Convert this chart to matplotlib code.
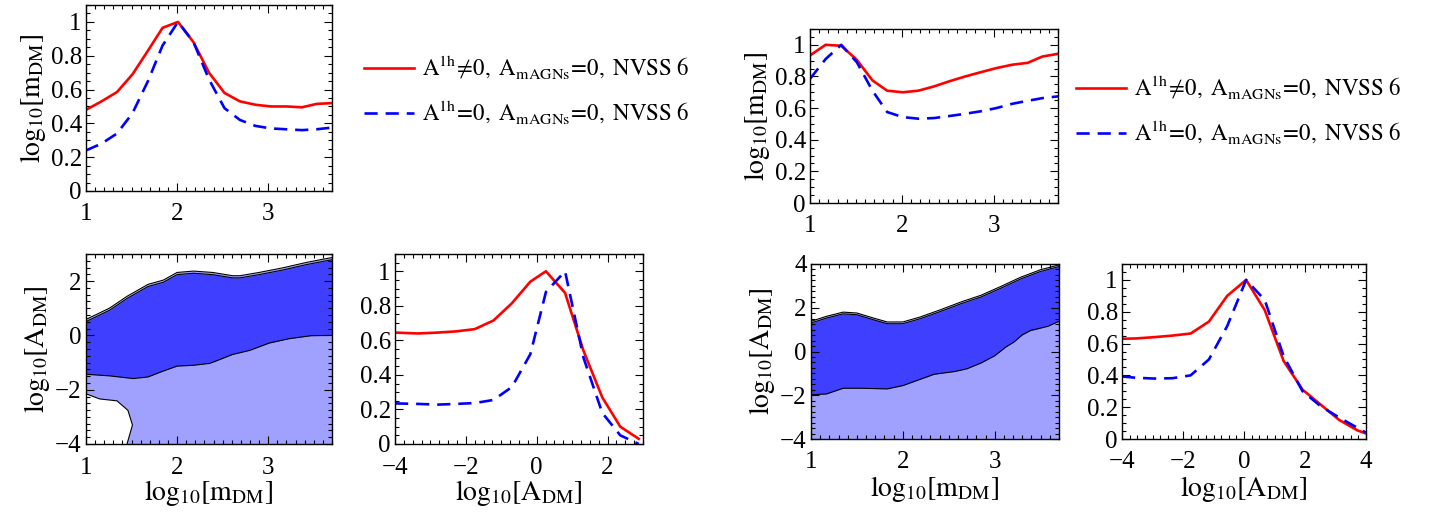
import numpy as np
import matplotlib
matplotlib.use("Agg")
from matplotlib import pyplot as plt
from matplotlib.ticker import MultipleLocator
from matplotlib.lines import Line2D

plt.rcParams['font.family'] = ['Liberation Serif', 'DejaVu Serif']
plt.rcParams['mathtext.fontset'] = 'stix'
plt.rcParams['font.size'] = 18

# ---- data ----
# 1D marginals in log10[m_DM]
m_grid = [1.0, 1.17, 1.34, 1.51, 1.68, 1.84, 2.01, 2.18, 2.35, 2.52, 2.69, 2.86, 3.03, 3.2, 3.37, 3.53, 3.7]
left_m_red = [0.48, 0.53, 0.585, 0.69, 0.83, 0.965, 1.0, 0.88, 0.70, 0.58, 0.53, 0.51, 0.50, 0.50, 0.495, 0.515, 0.52]
left_m_blue = [0.24, 0.28, 0.34, 0.46, 0.65, 0.86, 1.0, 0.88, 0.66, 0.49, 0.42, 0.385, 0.37, 0.365, 0.36, 0.365, 0.375]
right_m_red = [0.933, 1.0, 0.994, 0.905, 0.775, 0.71, 0.70, 0.71, 0.737, 0.77, 0.80, 0.827, 0.853, 0.874, 0.886, 0.926, 0.943]
right_m_blue = [0.785, 0.91, 1.0, 0.89, 0.71, 0.575, 0.543, 0.533, 0.537, 0.55, 0.564, 0.58, 0.60, 0.627, 0.646, 0.663, 0.674]

# 1D marginals in log10[A_DM]
left_a_grid = [-4.0, -3.35, -2.8, -2.28, -1.75, -1.22, -0.7, -0.18, 0.26, 0.8, 1.32, 1.85, 2.36, 2.88]
left_a_red = [0.645, 0.64, 0.645, 0.652, 0.665, 0.715, 0.815, 0.94, 1.0, 0.875, 0.54, 0.27, 0.10, 0.03]
left_a_blue = [0.235, 0.232, 0.228, 0.232, 0.237, 0.255, 0.33, 0.52, 0.88, 1.0, 0.50, 0.18, 0.05, 0.0]
right_a_grid = [-4.0, -3.55, -2.95, -2.35, -1.75, -1.15, -0.55, 0.07, 0.68, 1.3, 1.92, 2.52, 3.12, 3.72, 4.0]
right_a_red = [0.63, 0.632, 0.64, 0.65, 0.663, 0.738, 0.90, 1.0, 0.81, 0.49, 0.31, 0.215, 0.12, 0.054, 0.035]
right_a_blue = [0.393, 0.385, 0.38, 0.382, 0.40, 0.50, 0.71, 1.0, 0.874, 0.52, 0.30, 0.205, 0.135, 0.07, 0.04]

# 2D contours: upper edge of 68% / 95% and lower edge of 68%
left_up_x = [1.0, 1.15, 1.26, 1.45, 1.68, 1.85, 2.0, 2.18, 2.39, 2.61, 2.69, 2.9, 3.16, 3.42, 3.7]
left_up_y = [0.51, 0.75, 0.93, 1.36, 1.8, 1.96, 2.24, 2.29, 2.24, 2.12, 2.12, 2.24, 2.41, 2.61, 2.79]
left_mid_x = [1.0, 1.26, 1.52, 1.68, 1.85, 2.0, 2.18, 2.36, 2.61, 2.8, 3.01, 3.23, 3.47, 3.7]
left_mid_y = [-1.43, -1.49, -1.59, -1.53, -1.31, -1.13, -1.10, -1.03, -0.70, -0.55, -0.28, -0.12, -0.01, 0.0]
left_hole_x = [1.0, 1.15, 1.34, 1.46, 1.51, 1.45]
left_hole_y = [-2.15, -2.34, -2.41, -2.76, -3.3, -4.0]

right_up_x = [1.0, 1.17, 1.35, 1.5, 1.68, 1.83, 2.0, 2.19, 2.41, 2.63, 2.85, 3.07, 3.28, 3.5, 3.71]
right_up_y = [1.3, 1.53, 1.72, 1.68, 1.45, 1.27, 1.27, 1.5, 1.83, 2.18, 2.49, 2.9, 3.31, 3.66, 3.89]
right_mid_x = [1.0, 1.17, 1.35, 1.54, 1.83, 2.0, 2.19, 2.34, 2.56, 2.7, 2.85, 3.0, 3.12, 3.21, 3.3, 3.39, 3.58, 3.71]
right_mid_y = [-1.98, -1.94, -1.68, -1.68, -1.71, -1.56, -1.27, -1.04, -0.92, -0.79, -0.53, -0.2, 0.2, 0.43, 0.76, 0.96, 1.15, 1.40]

legend_labels = [r'$\mathrm{A^{1h}\!\neq\!0,\ A_{mAGNs}\!=\!0,\ NVSS\ 6}$',
                 r'$\mathrm{A^{1h}\!=\!0,\ A_{mAGNs}\!=\!0,\ NVSS\ 6}$']

RED = '#ff0000'
BLUE = '#0000ff'
DARK = '#3f3fff'
LIGHT = '#a0a0ff'
DASH = (0, (5, 3))
m_label = r'$\mathrm{log_{10}[m_{DM}]}$'
a_label = r'$\mathrm{log_{10}[A_{DM}]}$'


def style(ax, xminor, yminor):
    ax.xaxis.set_minor_locator(MultipleLocator(xminor))
    ax.yaxis.set_minor_locator(MultipleLocator(yminor))
    ax.tick_params(which='both', direction='in', top=True, right=True, width=0.8)
    ax.tick_params(which='major', length=6, labelsize=18, pad=3)
    ax.tick_params(axis='x', which='major', pad=9)
    ax.tick_params(which='minor', length=3)
    for s in ax.spines.values():
        s.set_linewidth(1.0)


def lines_1d(ax, x, red, blue, xlim, xmajor, xminor):
    ax.plot(x, red, color=RED, lw=1.9)
    ax.plot(x, blue, color=BLUE, lw=1.9, ls=DASH)
    ax.set_xlim(*xlim)
    ax.set_ylim(0, 1.1)
    ax.set_yticks([0, 0.2, 0.4, 0.6, 0.8, 1])
    ax.set_yticklabels(['0', '0.2', '0.4', '0.6', '0.8', '1'])
    ax.xaxis.set_major_locator(MultipleLocator(xmajor))
    style(ax, xminor, 0.05)


def contour_2d(ax, up_x, up_y, mid_x, mid_y, ylim, hole_x=None, hole_y=None):
    ux = np.array(up_x)
    uy = np.array(up_y)
    ax.fill_between(ux, ylim[0], uy + 0.08, color=LIGHT, lw=0)
    ax.fill_between(ux, np.interp(ux, mid_x, mid_y), uy, color=DARK, lw=0)
    ax.fill_between(mid_x, ylim[0], mid_y, color=LIGHT, lw=0)
    ax.plot(ux, uy + 0.08, color='k', lw=0.8)
    ax.plot(ux, uy, color='k', lw=0.8)
    ax.plot(mid_x, mid_y, color='k', lw=0.8)
    if hole_x is not None:
        px = list(hole_x) + [hole_x[0]]
        py = list(hole_y) + [ylim[0]]
        ax.fill(px, py, color='white', lw=0)
        ax.plot(hole_x, hole_y, color='k', lw=0.8)
    ax.set_xlim(1, 3.7)
    ax.set_ylim(*ylim)
    ax.xaxis.set_major_locator(MultipleLocator(1))
    ax.yaxis.set_major_locator(MultipleLocator(2))
    style(ax, 0.1, 0.25)


def make_plot():
    fig = plt.figure(figsize=(14.29, 5.15), dpi=100)
    W, H = 1429.0, 515.0

    def box(l, r, t, b):
        return fig.add_axes([l / W, 1 - b / H, (r - l) / W, (b - t) / H])

    # left group
    ax = box(86, 332, 5, 191)
    lines_1d(ax, m_grid, left_m_red, left_m_blue, (1, 3.7), 1, 0.1)
    ax.set_ylabel(m_label, fontsize=20, labelpad=2)

    ax = box(86, 332, 254, 444)
    contour_2d(ax, left_up_x, left_up_y, left_mid_x, left_mid_y, (-4, 3), left_hole_x, left_hole_y)
    ax.set_ylabel(a_label, fontsize=20, labelpad=2)
    ax.set_xlabel(m_label, fontsize=20, labelpad=0)

    ax = box(395, 643, 254, 444)
    lines_1d(ax, left_a_grid, left_a_red, left_a_blue, (-4, 3), 2, 0.25)
    ax.set_xlabel(a_label, fontsize=20, labelpad=0)

    # right group
    ax = box(810, 1058, 29, 203)
    lines_1d(ax, m_grid, right_m_red, right_m_blue, (1, 3.7), 1, 0.1)
    ax.set_ylabel(m_label, fontsize=20, labelpad=2)

    ax = box(811, 1059, 264, 439)
    contour_2d(ax, right_up_x, right_up_y, right_mid_x, right_mid_y, (-4, 4))
    ax.set_ylabel(a_label, fontsize=20, labelpad=2)
    ax.set_xlabel(m_label, fontsize=20, labelpad=0)

    ax = box(1122, 1366, 264, 439)
    lines_1d(ax, right_a_grid, right_a_red, right_a_blue, (-4, 4), 2, 0.25)
    ax.set_xlabel(a_label, fontsize=20, labelpad=0)

    handles = [Line2D([], [], color=RED, lw=1.9),
               Line2D([], [], color=BLUE, lw=1.9, ls=DASH)]
    for x0, y0 in [(364, 90), (1076, 110)]:
        fig.legend(handles, legend_labels, loc='center left',
                   bbox_to_anchor=(x0 / W, 1 - y0 / H), frameon=False,
                   fontsize=16.5, handlelength=2.2, handletextpad=0.35,
                   labelspacing=0.75, borderpad=0, borderaxespad=0)

    fig.savefig('out.png', dpi=100)


if __name__ == "__main__":
    make_plot()
